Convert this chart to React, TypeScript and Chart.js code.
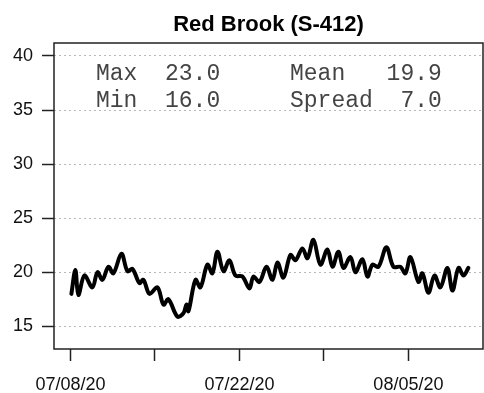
import React, { useEffect, useRef } from "react";
import { Chart, registerables } from "chart.js";

Chart.register(...registerables);

const TITLE = "Red Brook (S-412)";

// days since 07/08/20
const days = [
  0.08, 0.41, 0.66, 1.16, 1.82, 2.24, 2.65, 3.15, 3.56, 4.23, 4.72, 5.14, 5.72, 6.05, 6.55,
  7.21, 7.71, 8.12, 8.86, 9.36, 9.61, 9.78, 10.36, 10.77, 11.35, 11.76, 12.18, 12.68, 13.17,
  13.67, 14.25, 14.83, 15.16, 15.66, 16.24, 16.74, 17.15, 17.65, 18.23, 18.64, 19.22, 19.64,
  20.13, 20.71, 21.29, 21.71, 22.2, 22.62, 23.2, 23.61, 24.19, 24.61, 25.02, 25.52, 26.18,
  26.76, 27.34, 27.75, 28.17, 28.83, 29.16, 29.66, 30.16, 30.65, 31.23, 31.65, 32.15, 32.56,
  32.97,
];
const temps = [
  18.0, 20.2, 17.9, 19.7, 18.6, 20.0, 19.3, 20.5, 19.9, 21.7, 20.1, 20.3, 19.0, 19.3, 18.0,
  18.6, 17.0, 17.5, 15.9, 16.2, 17.0, 16.4, 19.3, 18.6, 20.7, 19.9, 21.9, 20.1, 21.1,
  19.7, 19.6, 18.5, 19.6, 19.1, 20.5, 19.3, 20.9, 19.5, 21.6, 21.1, 22.2, 21.3,
  23.0, 20.7, 22.1, 20.5, 21.9, 20.4, 21.4, 20.0, 21.2, 19.6, 20.7, 20.5, 22.3,
  20.5, 20.5, 19.9, 21.4, 19.1, 19.9, 18.1, 19.7, 18.6, 20.4, 18.3, 20.4, 19.7,
  20.4,
];

const xTicks = [0, 7, 14, 21, 28];
const xTickLabels = ["07/08/20", "", "07/22/20", "", "08/05/20"];
const yTicks = [15, 20, 25, 30, 35, 40];

const statLabels = ["Max", "Min", "Mean", "Spread"];
const statValues = ["23.0", "16.0", "19.9", "7.0"];

const W = 484;
const H = 393;

export default function App() {
  const ref = useRef<HTMLCanvasElement | null>(null);

  useEffect(() => {
    if (!ref.current) return;
    const boxPlugin = {
      id: "boxAndText",
      afterDraw(chart: any) {
        const { ctx, chartArea } = chart;
        ctx.save();
        ctx.strokeStyle = "#222";
        ctx.lineWidth = 1.5;
        ctx.strokeRect(chartArea.left, chartArea.top, chartArea.right - chartArea.left, chartArea.bottom - chartArea.top);
        // title
        ctx.fillStyle = "#000";
        ctx.font = "bold 22px 'Liberation Sans', Arial, sans-serif";
        ctx.textAlign = "center";
        ctx.textBaseline = "alphabetic";
        ctx.fillText(TITLE, (chartArea.left + chartArea.right) / 2, 31);
        // stats
        ctx.font = "23px 'Liberation Mono', 'Courier New', monospace";
        ctx.fillStyle = "#444";
        ctx.textAlign = "left";
        ctx.fillText(`${statLabels[0]}  ${statValues[0]}`, 96, 80);
        ctx.fillText(`${statLabels[1]}  ${statValues[1]}`, 96, 106.5);
        ctx.fillText(`${statLabels[2]}   ${statValues[2]}`, 290, 80);
        ctx.fillText(`${statLabels[3]}  ${statValues[3]}`, 290, 106.5);
        ctx.restore();
      },
    };

    const chart = new Chart(ref.current, {
      type: "line",
      data: {
        datasets: [
          {
            data: days.map((d, i) => ({ x: d, y: temps[i] })),
            borderColor: "#000",
            borderWidth: 4,
            borderJoinStyle: "round",
            borderCapStyle: "round",
            pointRadius: 0,
            tension: 0.35,
            fill: false,
          },
        ],
      },
      options: {
        responsive: false,
        animation: false,
        devicePixelRatio: 1,
        layout: { padding: { top: 43, right: 1, left: 0, bottom: 0 } },
        plugins: { legend: { display: false }, title: { display: false }, tooltip: { enabled: false } },
        scales: {
          x: {
            type: "linear",
            min: -1.36,
            max: 34.18,
            afterBuildTicks: (s: any) => {
              s.ticks = xTicks.map((v) => ({ value: v }));
            },
            afterFit: (s: any) => {
              s.height = 44;
            },
            border: { display: false },
            grid: {
              drawOnChartArea: false,
              drawTicks: true,
              tickLength: 12,
              tickColor: "#222",
              tickWidth: 1.5,
            },
            ticks: {
              autoSkip: false,
              maxRotation: 0,
              padding: 13,
              color: "#111",
              font: { family: "'Liberation Sans', Arial, sans-serif", size: 18 },
              callback: (v: any) => {
                const i = xTicks.indexOf(Number(v));
                return i >= 0 ? xTickLabels[i] : "";
              },
            },
          },
          y: {
            type: "linear",
            min: 12.9,
            max: 41.2,
            afterBuildTicks: (s: any) => {
              s.ticks = yTicks.map((v) => ({ value: v }));
            },
            afterFit: (s: any) => {
              s.width = 54;
            },
            border: { display: false, dash: [2, 3] },
            grid: {
              color: "#b8b8b8",
              lineWidth: 1,
              drawTicks: true,
              tickLength: 12,
              tickColor: "#222",
              tickWidth: 1.5,
              tickBorderDash: [],
            },
            ticks: {
              padding: 9,
              color: "#111",
              font: { family: "'Liberation Sans', Arial, sans-serif", size: 18 },
              callback: (v: any) => String(v),
            },
          },
        },
      },
      plugins: [boxPlugin],
    } as any);
    return () => chart.destroy();
  }, []);

  return (
    <div style={{ position: "fixed", left: 0, top: 0, width: W, height: H, background: "#fff" }}>
      <canvas ref={ref} width={W} height={H} style={{ width: W, height: H, display: "block" }} />
    </div>
  );
}
